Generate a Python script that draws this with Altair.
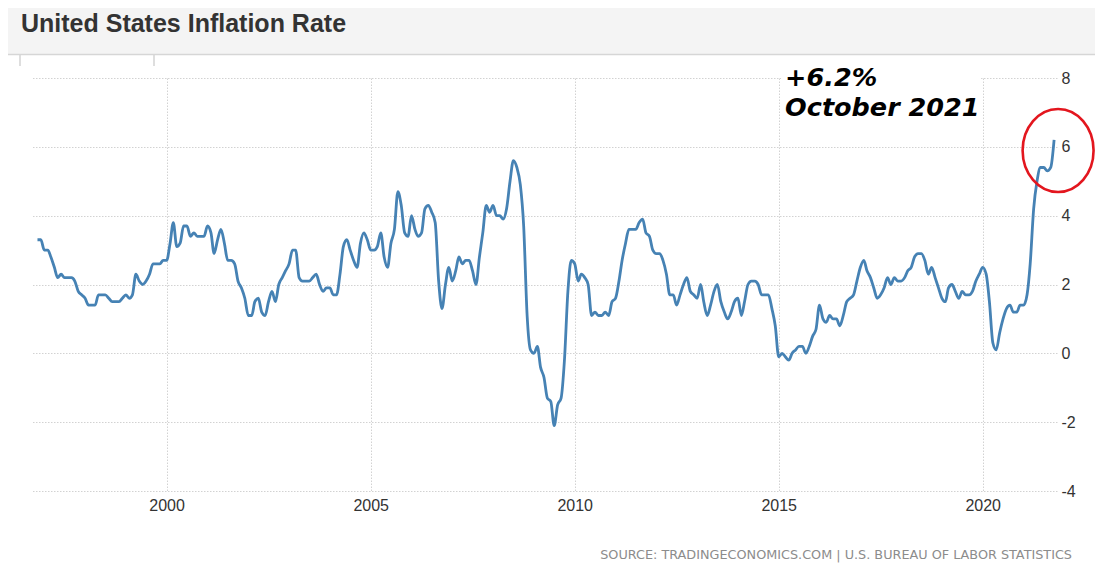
import altair as alt
import pandas as pd

# ---- data (US CPI inflation, YoY %, monthly Nov 1996 .. Oct 2021) ----
start_month = "1996-11-01"
v1996 = [3.3, 3.3]
v1997 = [3.0, 3.0, 2.8, 2.5, 2.2, 2.3, 2.2, 2.2, 2.2, 2.1, 1.8, 1.7]
v1998 = [1.6, 1.4, 1.4, 1.4, 1.7, 1.7, 1.7, 1.6, 1.5, 1.5, 1.5, 1.6]
v1999 = [1.7, 1.6, 1.7, 2.3, 2.1, 2.0, 2.1, 2.3, 2.6, 2.6, 2.6, 2.7]
v2000 = [2.7, 3.2, 3.8, 3.1, 3.2, 3.7, 3.7, 3.4, 3.5, 3.4, 3.4, 3.4]
v2001 = [3.7, 3.5, 2.9, 3.3, 3.6, 3.2, 2.7, 2.7, 2.6, 2.1, 1.9, 1.6]
v2002 = [1.1, 1.1, 1.5, 1.6, 1.2, 1.1, 1.5, 1.8, 1.5, 2.0, 2.2, 2.4]
v2003 = [2.6, 3.0, 3.0, 2.2, 2.1, 2.1, 2.1, 2.2, 2.3, 2.0, 1.8, 1.9]
v2004 = [1.9, 1.7, 1.7, 2.3, 3.1, 3.3, 3.0, 2.7, 2.5, 3.2, 3.5, 3.3]
v2005 = [3.0, 3.0, 3.1, 3.5, 2.8, 2.5, 3.2, 3.6, 4.7, 4.3, 3.5, 3.4]
v2006 = [4.0, 3.6, 3.4, 3.5, 4.2, 4.3, 4.1, 3.8, 2.1, 1.3, 2.0, 2.5]
v2007 = [2.1, 2.4, 2.8, 2.6, 2.7, 2.7, 2.4, 2.0, 2.8, 3.5, 4.3, 4.1]
v2008 = [4.3, 4.0, 4.0, 3.9, 4.2, 5.0, 5.6, 5.4, 4.9, 3.7, 1.1, 0.1]
v2009 = [0.0, 0.2, -0.4, -0.7, -1.3, -1.4, -2.1, -1.5, -1.3, -0.2, 1.8, 2.7]
v2010 = [2.6, 2.1, 2.3, 2.2, 2.0, 1.1, 1.2, 1.1, 1.1, 1.2, 1.1, 1.5]
v2011 = [1.6, 2.1, 2.7, 3.2, 3.6, 3.6, 3.6, 3.8, 3.9, 3.5, 3.4, 3.0]
v2012 = [2.9, 2.9, 2.7, 2.3, 1.7, 1.7, 1.4, 1.7, 2.0, 2.2, 1.8, 1.7]
v2013 = [1.6, 2.0, 1.5, 1.1, 1.4, 1.8, 2.0, 1.5, 1.2, 1.0, 1.2, 1.5]
v2014 = [1.6, 1.1, 1.5, 2.0, 2.1, 2.1, 2.0, 1.7, 1.7, 1.7, 1.3, 0.8]
v2015 = [-0.1, 0.0, -0.1, -0.2, 0.0, 0.1, 0.2, 0.2, 0.0, 0.2, 0.5, 0.7]
v2016 = [1.4, 1.0, 0.9, 1.1, 1.0, 1.0, 0.8, 1.1, 1.5, 1.6, 1.7, 2.1]
v2017 = [2.5, 2.7, 2.4, 2.2, 1.9, 1.6, 1.7, 1.9, 2.2, 2.0, 2.2, 2.1]
v2018 = [2.1, 2.2, 2.4, 2.5, 2.8, 2.9, 2.9, 2.7, 2.3, 2.5, 2.2, 1.9]
v2019 = [1.6, 1.5, 1.9, 2.0, 1.8, 1.6, 1.8, 1.7, 1.7, 1.8, 2.1, 2.3]
v2020 = [2.5, 2.3, 1.5, 0.3, 0.1, 0.6, 1.0, 1.3, 1.4, 1.2, 1.2, 1.4]
v2021 = [1.4, 1.7, 2.6, 4.2, 5.0, 5.4, 5.4, 5.3, 5.4, 6.2]

values = (v1996 + v1997 + v1998 + v1999 + v2000 + v2001 + v2002 + v2003 + v2004
          + v2005 + v2006 + v2007 + v2008 + v2009 + v2010 + v2011 + v2012 + v2013
          + v2014 + v2015 + v2016 + v2017 + v2018 + v2019 + v2020 + v2021)
dates = pd.date_range(start_month, periods=len(values), freq="MS").strftime("%Y-%m-%d").tolist()

x_ticks_years = [2000, 2005, 2010, 2015, 2020]
y_ticks = [-4, -2, 0, 2, 4, 6, 8]
x_domain = ["1996-09-13", "2021-10-27"]
y_domain = [-4, 8]

title_text = "United States Inflation Rate"
annotation_lines = ["+6.2%", "October 2021"]
source_text = "SOURCE: TRADINGECONOMICS.COM | U.S. BUREAU OF LABOR STATISTICS"

df = pd.DataFrame({"date": dates, "value": values})
df_last = df.tail(1)

W, H = 1025, 413
PAD = {"left": 24, "top": 70, "right": 38, "bottom": 77}

x_enc = alt.X("date:T",
              scale=alt.Scale(type="utc", domain=x_domain),
              axis=alt.Axis(values=[alt.DateTime(year=y, month=1, date=1, utc=True) for y in x_ticks_years],
                            format="%Y", title=None, grid=True, ticks=False, tickSize=0,
                            domain=False, labelPadding=6, labelFontSize=16))
y_enc = alt.Y("value:Q",
              scale=alt.Scale(domain=y_domain, nice=False, zero=False),
              axis=alt.Axis(orient="right", values=y_ticks, title=None, grid=True, ticks=False,
                            tickSize=0, domain=False, labelPadding=4, labelAlign="left",
                            labelFontSize=16, labelExpr="'' + datum.value"))

line = alt.Chart(df).mark_line(color="#4682b4", strokeWidth=2.8, interpolate="monotone").encode(
    x=x_enc, y=y_enc)

# white box behind the annotation text (hides the gridline there, as in the reference)
annot_box = alt.Chart(df_last).mark_rect(color="white", xOffset=-273, x2Offset=-73,
                                         yOffset=-70, y2Offset=-15).encode(
    x="date:T", x2="date:T", y="value:Q", y2="value:Q")

ellipse_path = "M -0.855 0 A 0.855 1 0 1 1 0.855 0 A 0.855 1 0 1 1 -0.855 0 Z"
ellipse = alt.Chart(df_last).mark_point(shape=ellipse_path, size=6889, filled=False,
                                        stroke="#e3161e", strokeWidth=2.6, opacity=1,
                                        xOffset=4, yOffset=10.5).encode(
    x="date:T", y="value:Q")

annot = alt.Chart(df_last).mark_text(text=annotation_lines, align="left", baseline="alphabetic",
                                     font="DejaVu Sans", fontWeight="bold", fontStyle="italic",
                                     fontSize=25.5, lineHeight=30.5, color="#000000",
                                     dx=-269, dy=-54).encode(
    x="date:T", y="value:Q")

one = pd.DataFrame({"t": [title_text]})
header_bg = alt.Chart(one).mark_rect(color="#f4f4f4").encode(
    x=alt.value(-24), x2=alt.value(1063), y=alt.value(-70), y2=alt.value(-24))
header_line = alt.Chart(one).mark_rule(color="#d6d6d6", strokeWidth=1.6).encode(
    x=alt.value(-24), x2=alt.value(1063), y=alt.value(-23.5))
tab1 = alt.Chart(one).mark_rule(color="#d6d6d6", strokeWidth=1.6).encode(
    x=alt.value(-12), y=alt.value(-23), y2=alt.value(-12))
tab2 = alt.Chart(one).mark_rule(color="#d6d6d6", strokeWidth=1.6).encode(
    x=alt.value(122), y=alt.value(-23), y2=alt.value(-12))
title = alt.Chart(one).mark_text(align="left", baseline="alphabetic", font="Liberation Sans",
                                 fontWeight="bold", fontSize=25, color="#333333").encode(
    x=alt.value(-11), y=alt.value(-46.5), text="t:N")
source = alt.Chart(pd.DataFrame({"t": [source_text]})).mark_text(
    align="right", baseline="alphabetic", font="DejaVu Sans", fontSize=12.8,
    color="#8c8c8c").encode(x=alt.value(1040), y=alt.value(481), text="t:N")

chart = alt.layer(header_bg, header_line, tab1, tab2, title, line, annot_box, ellipse, annot,
                  source).properties(
    width=W, height=H,
    autosize=alt.AutoSizeParams(type="none"),
    padding=PAD,
    background="white",
).configure_view(stroke="transparent").configure_axis(
    labelFont="Liberation Sans", labelColor="#333333",
    gridColor="#d2d2d2", gridDash=[1.5, 1.5], gridWidth=1,
)

chart.save("out.html", embed_options={"renderer": "svg", "actions": False})
